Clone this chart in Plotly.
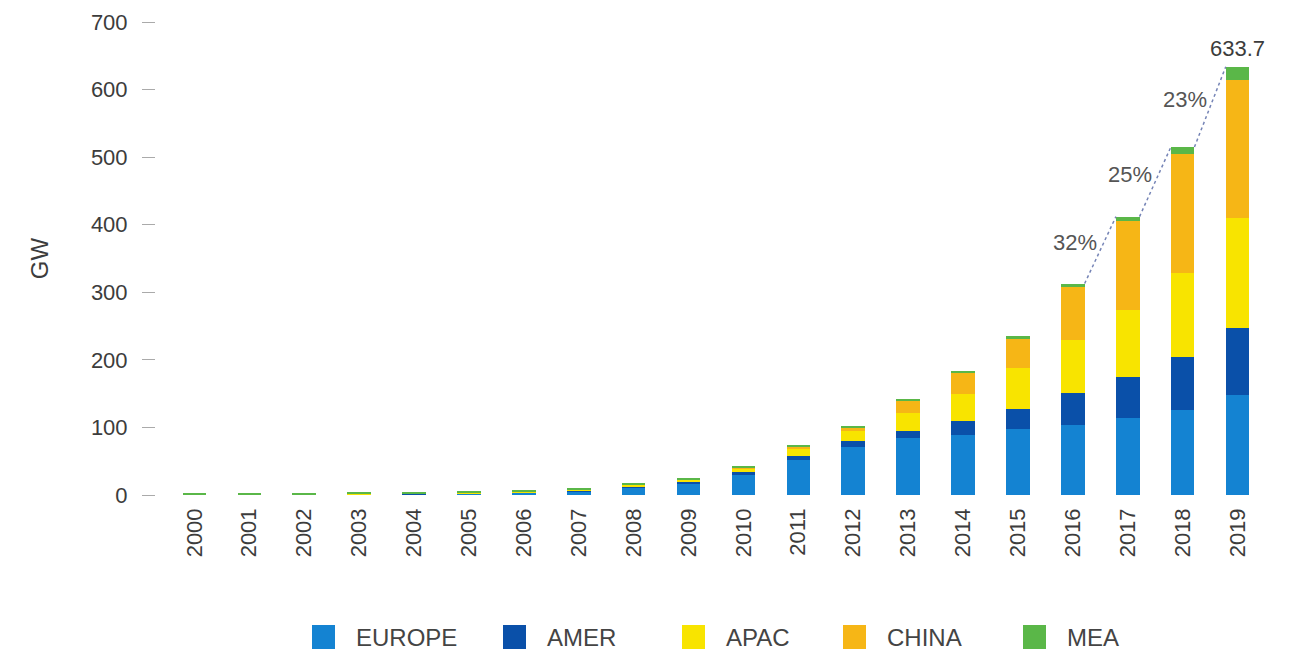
import plotly.graph_objects as go

# Cumulative installed solar PV capacity by region (GW)
years = list(range(2000, 2020))
europe = [0.2, 0.3, 0.4, 0.6, 1.3, 2.3, 3.3, 5.3, 11.0, 16.5, 30.0, 51.5, 70.5, 84.0, 89.0, 98.0, 104.0, 114.0, 126.0, 148.0]
amer = [0.1, 0.15, 0.2, 0.3, 0.4, 0.5, 0.7, 1.0, 1.5, 2.3, 3.8, 5.5, 9.0, 10.0, 21.0, 30.0, 47.0, 61.0, 78.0, 98.7]
apac = [0.4, 0.5, 0.7, 0.9, 1.1, 1.4, 1.7, 2.0, 2.5, 3.5, 5.5, 11.0, 14.5, 28.0, 40.0, 59.5, 78.0, 99.0, 125.0, 163.0]
china = [0.02, 0.03, 0.04, 0.05, 0.06, 0.07, 0.08, 0.1, 0.15, 0.3, 0.8, 3.3, 6.5, 18.0, 31.0, 43.5, 79.0, 131.0, 175.0, 205.0]
mea = [1.0, 1.2, 1.3, 1.4, 1.5, 1.6, 1.8, 2.3, 3.0, 3.2, 2.5, 1.5, 2.0, 2.0, 2.5, 4.0, 5.0, 7.0, 11.0, 19.0]

region_names = ["EUROPE", "AMER", "APAC", "CHINA", "MEA"]
region_values = [europe, amer, apac, china, mea]
region_colors = ["#1483d2", "#0a50a9", "#f8e400", "#f6b616", "#5ab748"]

y_ticks = [0, 100, 200, 300, 400, 500, 600, 700]
growth_from_year = 2016  # growth labels shown for the last years

W, H = 1291, 652
M_L, M_R, M_T, M_B = 155, 26, 22, 157
PLOT_W = W - M_L - M_R
PLOT_H = H - M_T - M_B
BAR_W = 0.43
TEXT = "#3c3c3c"
FONT = "Liberation Sans, Arial, sans-serif"

totals = [sum(v) for v in zip(*region_values)]

fig = go.Figure()
for name, vals, col in zip(region_names, region_values, region_colors):
    fig.add_trace(go.Bar(
        x=years, y=vals, name=name, width=BAR_W,
        marker=dict(color=col, line=dict(width=0)),
        showlegend=False,
    ))

# dotted growth connector between the tops of consecutive bars
start = years.index(growth_from_year)
lx, ly = [], []
for i in range(start, len(years) - 1):
    lx += [years[i] + BAR_W / 2, years[i + 1] - BAR_W / 2, None]
    ly += [totals[i], totals[i + 1], None]
fig.add_trace(go.Scatter(
    x=lx, y=ly, mode="lines", showlegend=False, hoverinfo="skip",
    line=dict(color="#7584b6", width=1.5, dash="dot"),
))

annotations = []
for i in range(start, len(years) - 1):
    pct = round((totals[i + 1] / totals[i] - 1) * 100)
    annotations.append(dict(
        x=years[i] + 0.04, y=(totals[i] + totals[i + 1]) / 2 + 11,
        xref="x", yref="y", text=f"{pct}%", showarrow=False,
        font=dict(size=22, color="#555555", family=FONT),
    ))

# total of the last year
annotations.append(dict(
    x=years[-1], y=totals[-1], xref="x", yref="y",
    text=f"{totals[-1]:.1f}", showarrow=False, yanchor="bottom", yshift=4,
    font=dict(size=22, color=TEXT, family=FONT),
))

# legend row
def px_x(p):
    return (p - M_L) / PLOT_W

def px_y(p):
    return (H - M_B - p) / PLOT_H

legend_left = [312, 503, 682, 843, 1023]
shapes = []
for left, name, col in zip(legend_left, region_names, region_colors):
    shapes.append(dict(
        type="rect", xref="paper", yref="paper",
        x0=px_x(left), x1=px_x(left + 23), y0=px_y(649), y1=px_y(625),
        fillcolor=col, line=dict(width=0),
    ))
    annotations.append(dict(
        x=px_x(left + 42), y=px_y(637), xref="paper", yref="paper",
        text=name, showarrow=False, xanchor="left", yanchor="middle",
        font=dict(size=24, color="#444444", family=FONT),
    ))

fig.update_layout(
    width=W, height=H,
    margin=dict(l=M_L, r=M_R, t=M_T, b=M_B, autoexpand=False),
    barmode="stack", bargap=0.5,
    plot_bgcolor="white", paper_bgcolor="white",
    font=dict(family=FONT, color=TEXT, size=22),
    xaxis=dict(
        domain=[12 / PLOT_W, 1], range=[1999.5, 2019.5],
        tickvals=years, ticktext=[str(y) for y in years], tickangle=-90,
        showgrid=False, zeroline=False, showline=False, ticks="",
        ticklabelstandoff=8, tickfont=dict(size=22, color=TEXT),
    ),
    yaxis=dict(
        anchor="free", position=0, range=[0, 700],
        tickvals=y_ticks, showgrid=False, zeroline=False, showline=False,
        ticks="outside", ticklen=13, tickcolor="#aaaaaa", tickwidth=1,
        ticklabelstandoff=10, tickfont=dict(size=22, color=TEXT),
        title=dict(text="GW", standoff=34, font=dict(size=24, color=TEXT)),
    ),
    shapes=shapes, annotations=annotations,
)

fig.write_html("out.html")
